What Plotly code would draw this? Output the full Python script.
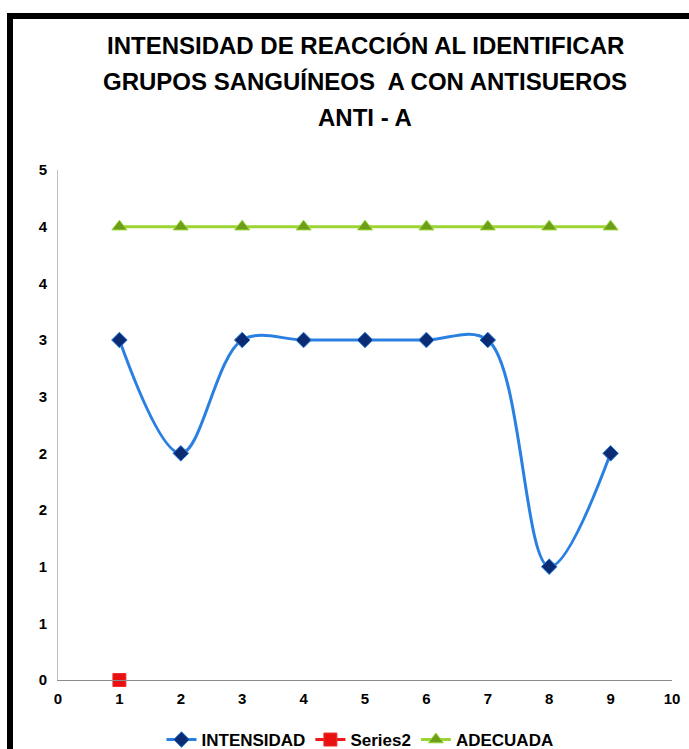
import plotly.graph_objects as go

x_vals = [1, 2, 3, 4, 5, 6, 7, 8, 9]
intensidad = [3, 2, 3, 3, 3, 3, 3, 1, 2]
adecuada = [4, 4, 4, 4, 4, 4, 4, 4, 4]
series2_x = [1]
series2_y = [0]

y_tickvals = [0, 0.5, 1, 1.5, 2, 2.5, 3, 3.5, 4, 4.5]
y_ticktext = ["0", "1", "1", "2", "2", "3", "3", "4", "4", "5"]
x_tickvals = [0, 1, 2, 3, 4, 5, 6, 7, 8, 9, 10]

title_lines = ["INTENSIDAD DE REACCIÓN AL IDENTIFICAR",
               "GRUPOS SANGUÍNEOS  A CON ANTISUEROS",
               "ANTI - A"]

FONT = "Liberation Sans Narrow, Arial Narrow, Liberation Sans, Arial, sans-serif"

fig = go.Figure()
fig.add_trace(go.Scatter(
    x=x_vals, y=intensidad, name="INTENSIDAD", mode="lines+markers",
    line=dict(color="#2A80E2", width=3, shape="spline", smoothing=1.0),
    marker=dict(symbol="diamond", size=12, color="#0B2B72",
                line=dict(color="#2A80E2", width=1))))
fig.add_trace(go.Scatter(
    x=series2_x, y=series2_y, name="Series2", mode="lines+markers",
    line=dict(color="#F01818", width=3),
    marker=dict(symbol="square", size=13, color="#E81010",
                line=dict(color="#F03030", width=1)),
    cliponaxis=False))
fig.add_trace(go.Scatter(
    x=x_vals, y=adecuada, name="ADECUADA", mode="lines+markers",
    line=dict(color="#9AD531", width=3),
    marker=dict(symbol="triangle-up", size=13, color="#6C9E1C",
                line=dict(color="#9AD531", width=1))))

W, H = 689, 749
L, R, T, B = 58, 17, 170, 69
pw, ph = W - L - R, H - T - B


def px(xpix):
    return (xpix - L) / pw


def py(ypix):
    return (H - B - ypix) / ph


shapes = [
    dict(type="rect", xref="paper", yref="paper", x0=px(7), x1=px(13), y0=py(760), y1=py(13),
         fillcolor="black", line=dict(width=0), layer="above"),
    dict(type="rect", xref="paper", yref="paper", x0=px(7), x1=px(700), y0=py(19), y1=py(13),
         fillcolor="black", line=dict(width=0), layer="above"),
]

title_y = [46, 82, 118]
annotations = [
    dict(text="<b>" + t + "</b>", xref="paper", yref="paper", x=px(365), y=py(yy),
         xanchor="center", yanchor="middle", showarrow=False,
         font=dict(family=FONT, size=24, color="black"))
    for t, yy in zip(title_lines, title_y)
]

fig.update_layout(
    width=W, height=H,
    margin=dict(l=L, r=R, t=T, b=B, pad=0, autoexpand=False),
    paper_bgcolor="white", plot_bgcolor="white",
    font=dict(family=FONT, color="black", size=16),
    xaxis=dict(range=[0, 10], tickvals=x_tickvals, showgrid=False, zeroline=False,
               showline=True, linecolor="#8C8C8C", linewidth=1, ticks="",
               tickfont=dict(family=FONT, size=15, color="black", weight="bold"),
               ticklabelstandoff=5),
    yaxis=dict(range=[0, 4.5], tickvals=y_tickvals, ticktext=y_ticktext, showgrid=False,
               zeroline=False, showline=True, linecolor="#BFBFBF", linewidth=1, ticks="",
               tickfont=dict(family=FONT, size=15, color="black", weight="bold"),
               ticklabelstandoff=7),
    showlegend=True,
    legend=dict(orientation="h", x=px(360), xanchor="center", y=py(740), yanchor="middle",
                font=dict(family=FONT, size=17, color="black", weight="bold"),
                itemwidth=30, tracegroupgap=0, bgcolor="rgba(0,0,0,0)"),
    shapes=shapes,
    annotations=annotations,
)

fig.write_html("out.html",
               config={"displayModeBar": False},
               post_script="document.body.style.margin='0';document.body.style.overflow='hidden';")
